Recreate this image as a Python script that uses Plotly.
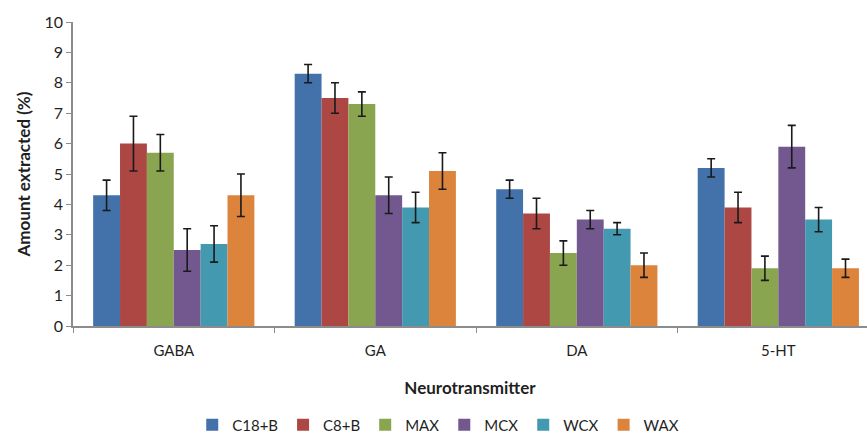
import plotly.graph_objects as go

categories = ["GABA", "GA", "DA", "5-HT"]
series_names = ["C18+B", "C8+B", "MAX", "MCX", "WCX", "WAX"]
values = {
    "C18+B": [4.3, 8.3, 4.5, 5.2],
    "C8+B": [6.0, 7.5, 3.7, 3.9],
    "MAX": [5.7, 7.3, 2.4, 1.9],
    "MCX": [2.5, 4.3, 3.5, 5.9],
    "WCX": [2.7, 3.9, 3.2, 3.5],
    "WAX": [4.3, 5.1, 2.0, 1.9],
}
errors = {
    "C18+B": [0.5, 0.3, 0.3, 0.3],
    "C8+B": [0.9, 0.5, 0.5, 0.5],
    "MAX": [0.6, 0.4, 0.4, 0.4],
    "MCX": [0.7, 0.6, 0.3, 0.7],
    "WCX": [0.6, 0.5, 0.2, 0.4],
    "WAX": [0.7, 0.6, 0.4, 0.3],
}
colors = ["#4371A9", "#AC4744", "#8AA54F", "#72588F", "#4299B0", "#DC843C"]

fig = go.Figure()
for name, col in zip(series_names, colors):
    fig.add_trace(go.Bar(
        x=categories, y=values[name], name=name,
        marker=dict(color=col, line=dict(width=0)),
        error_y=dict(type="data", array=errors[name], visible=True,
                     color="#1a1a1a", thickness=1.6, width=4),
    ))

font_family = "Lato, Open Sans, sans-serif"
fig.update_layout(
    width=867, height=436,
    margin=dict(l=73, r=0, t=22, b=110, autoexpand=False),
    paper_bgcolor="white", plot_bgcolor="white",
    barmode="group", bargap=0.2, bargroupgap=0,
    font=dict(family=font_family, color="#1f1f1f"),
    showlegend=True,
    legend=dict(orientation="h", x=0.46, xanchor="center", y=-0.326, yanchor="middle",
                font=dict(size=15, color="#1f1f1f"), itemwidth=30,
                traceorder="normal", tracegroupgap=0),
    xaxis=dict(
        type="category", range=[-0.5, 3.44], automargin=False,
        showline=True, linecolor="#8c8c8c", linewidth=1.5,
        ticks="outside", ticklen=5, tickcolor="#8c8c8c", tickson="boundaries",
        ticklabelstandoff=10,
        tickfont=dict(size=15, color="#1f1f1f"),
        title=dict(text="<b>Neurotransmitter</b>", font=dict(size=17, color="#1f1f1f"), standoff=24),
        showgrid=False, zeroline=False,
    ),
    yaxis=dict(
        range=[0, 10], dtick=1, automargin=False,
        showline=True, linecolor="#8c8c8c", linewidth=1.5,
        ticks="outside", ticklen=5, tickcolor="#8c8c8c",
        tickfont=dict(size=16, color="#1f1f1f"),
        title=dict(text="<b>Amount extracted (%)</b>", font=dict(size=17, color="#1f1f1f"), standoff=10),
        showgrid=False, zeroline=False,
    ),
)

fig.write_html("out.html", config={"displayModeBar": False},
               post_script="document.body.style.margin='0';document.body.style.overflow='hidden';")
